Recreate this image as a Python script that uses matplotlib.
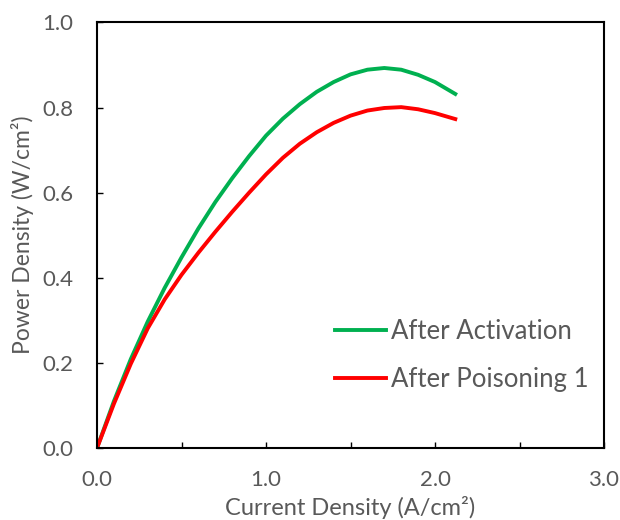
import matplotlib
matplotlib.use("Agg")
import matplotlib.pyplot as plt
from matplotlib.ticker import MultipleLocator

plt.rcParams['font.family'] = ['Lato', 'DejaVu Sans']

# values
current = [0, 0.1, 0.2, 0.3, 0.4, 0.5, 0.6, 0.7, 0.8, 0.9, 1.0, 1.1, 1.2,
           1.3, 1.4, 1.5, 1.6, 1.7, 1.8, 1.9, 2.0, 2.12]
activation = [0, 0.110, 0.209, 0.297, 0.376, 0.448, 0.516, 0.578, 0.634,
              0.686, 0.734, 0.774, 0.808, 0.837, 0.860, 0.878, 0.889, 0.893,
              0.889, 0.877, 0.860, 0.832]
poisoning = [0, 0.104, 0.198, 0.281, 0.349, 0.407, 0.459, 0.508, 0.555,
             0.600, 0.643, 0.682, 0.715, 0.742, 0.764, 0.781, 0.793, 0.799,
             0.801, 0.796, 0.787, 0.773]

gray = '#595959'

fig = plt.figure(figsize=(6.2, 5.2), dpi=100)
ax = fig.add_axes([0.1565, 0.1385, 0.8177, 0.8183])

ax.plot(current, activation, color='#00B050', lw=2.8, label='After Activation')
ax.plot(current, poisoning, color='#FF0000', lw=2.8, label='After Poisoning 1')

ax.set_xlim(0, 3.0)
ax.set_ylim(0, 1.0)
ax.xaxis.set_major_locator(MultipleLocator(1.0))
ax.xaxis.set_minor_locator(MultipleLocator(0.5))
ax.yaxis.set_major_locator(MultipleLocator(0.2))
ax.xaxis.set_major_formatter(lambda v, p: f'{v:.1f}')
ax.yaxis.set_major_formatter(lambda v, p: f'{v:.1f}')

ax.tick_params(which='both', direction='in', colors='black', labelcolor=gray,
               labelsize=16, width=1, length=4, top=False, right=False)
ax.tick_params(axis='x', pad=16)
ax.tick_params(axis='y', pad=17)
for s in ax.spines.values():
    s.set_linewidth(1.5)
    s.set_color('black')

ax.set_xlabel('Current Density (A/cm²)', color=gray, fontsize=17)
ax.set_ylabel('Power Density (W/cm²)', color=gray, fontsize=16.5)
ax.xaxis.set_label_coords(0.5, -0.113)
ax.yaxis.set_label_coords(-0.124, 0.5)

leg = ax.legend(loc='center left', bbox_to_anchor=(0.45, 0.2176), frameon=False,
                borderaxespad=0, fontsize=18.5, handlelength=1.95,
                handletextpad=0.2, labelspacing=0.88)
for t in leg.get_texts():
    t.set_color(gray)

fig.savefig('out.png', dpi=100)
